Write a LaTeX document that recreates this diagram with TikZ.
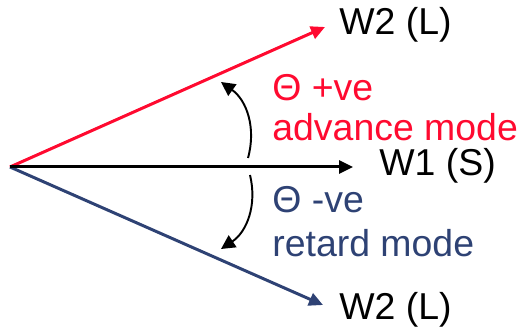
\documentclass[tikz,border=0pt]{standalone}
\usepackage{fontspec}
\setmainfont{Liberation Sans}
\usepackage{xcolor}
\usetikzlibrary{arrows.meta,positioning}
\definecolor{advred}{HTML}{FF0A30}
\definecolor{retblue}{HTML}{2E4274}
\tikzset{
  vec/.style={-{Triangle[length=2.8mm,width=2.6mm]}, line width=1.7pt},
  swing/.style={-{Triangle[length=2.8mm,width=2.8mm]}, line width=1.1pt, draw=black},
  lbl/.style={font=\fontsize{21.3}{25}\selectfont, anchor=west, inner sep=0pt},
}
\begin{document}
\begin{tikzpicture}
    \useasboundingbox (0,0) rectangle (10.4,6.62);
    \coordinate (o) at (0.2,3.28);
    \coordinate (lead) at (6.5,6.08);
    \coordinate (ref) at (7.06,3.28);
    \coordinate (lag) at (6.46,0.52);

    \draw[vec, draw=advred, fill=advred] (o) -- (lead);
    \draw[vec, draw=retblue, fill=retblue] (o) -- (lag);
    \draw[vec, draw=black, fill=black] (o) -- (ref);

    \node[lbl] (w2a) at (6.78,6.12) {W2 (L)};
    \node[lbl] (w1) at (7.58,3.3) {W1 (S)};
    \node[lbl] (w2b) at (6.78,0.42) {W2 (L)};

    \node[lbl, text=advred] (tp) at (5.44,4.86) {Θ +ve};
    \node[lbl, text=advred] (adv) at (5.44,4.08) {advance mode};
    \node[lbl, text=retblue] (tn) at (5.44,2.62) {Θ -ve};
    \node[lbl, text=retblue] (ret) at (5.44,1.76) {retard mode};

    % swing of the phase angle
    \coordinate (a1) at (4.96,3.46);
    \coordinate (a2) at (4.42,4.98);
    \coordinate (b1) at (5.0,3.12);
    \coordinate (b2) at (4.42,1.64);
    \draw[swing] (a1) to[bend right=35] (a2);
    \draw[swing] (b1) to[bend left=35] (b2);
\end{tikzpicture}
\end{document}
